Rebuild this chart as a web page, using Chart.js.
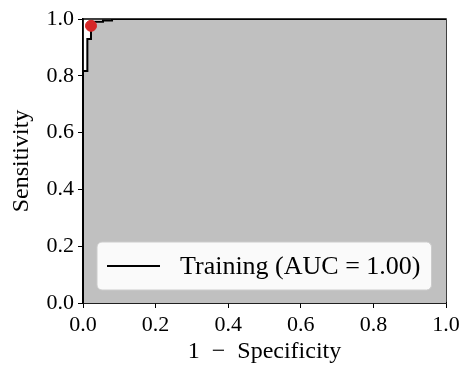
<!DOCTYPE html>
<html>
<head>
<meta charset="utf-8">
<script src="https://cdn.jsdelivr.net/npm/chart.js@4.4.1/dist/chart.umd.min.js"></script>
<style>
  body { margin: 0; background: #fff; }
</style>
</head>
<body>
<canvas id="myChart" width="460" height="365"></canvas>
<script>
// ROC curve corners
const fpr = [0, 0, 0.012, 0.012, 0.022, 0.022, 0.055, 0.055, 0.08, 0.08, 1.0];
const tpr = [0, 0.817, 0.817, 0.93, 0.93, 0.99, 0.99, 0.995, 0.995, 1.0, 1.0];
// chosen operating point (red dot)
const bestFpr = [0.022];
const bestTpr = [0.976];
const tickValues = [0, 0.2, 0.4, 0.6, 0.8, 1.0];
const seriesLabel = 'Training (AUC = 1.00)';

const serif = '"Liberation Serif", "DejaVu Serif", serif';

// black box round the plot
const frame = {
    id: 'frame',
    beforeDatasetsDraw(chart) {
        const {ctx, chartArea: a} = chart;
        ctx.save();
        ctx.strokeStyle = '#000';
        ctx.lineWidth = 1.5;
        ctx.strokeRect(a.left, a.top, a.right - a.left, a.bottom - a.top);
        ctx.restore();
    }
};

// legend inside the plot, lower part
const innerLegend = {
    id: 'innerLegend',
    afterDraw(chart) {
        const {ctx, chartArea: a} = chart;
        const label = chart.data.datasets[0].label;
        ctx.save();
        ctx.font = '26px ' + serif;
        const tw = ctx.measureText(label).width;
        const x0 = a.left + 14, y1 = a.bottom - 13, h = 48;
        const lineX = x0 + 10, lineLen = 53, textX = lineX + lineLen + 20;
        const x1 = textX + tw + 11;
        ctx.beginPath();
        ctx.roundRect(x0, y1 - h, x1 - x0, h, 5);
        ctx.fillStyle = 'rgba(255,255,255,0.92)';
        ctx.fill();
        ctx.strokeStyle = '#cccccc';
        ctx.lineWidth = 1;
        ctx.stroke();
        const cy = y1 - h / 2;
        ctx.beginPath();
        ctx.moveTo(lineX, cy);
        ctx.lineTo(lineX + lineLen, cy);
        ctx.strokeStyle = '#000';
        ctx.lineWidth = 2;
        ctx.stroke();
        ctx.fillStyle = '#000';
        ctx.textBaseline = 'middle';
        ctx.fillText(label, textX, cy + 1);
        ctx.restore();
    }
};

window.onload = () => {
    const ctx = document.getElementById('myChart').getContext('2d');
    const myChart = new Chart(ctx, {
        type: 'line',
        data: {
            datasets: [{
                label: seriesLabel,
                data: fpr.map((x, i) => ({x: x, y: tpr[i]})),
                borderColor: '#000',
                backgroundColor: '#c0c0c0',
                borderWidth: 2,
                pointRadius: 0,
                tension: 0,
                fill: 'origin',
                order: 2
            }, {
                type: 'scatter',
                label: 'best',
                data: bestFpr.map((x, i) => ({x: x, y: bestTpr[i]})),
                backgroundColor: '#d62728',
                borderColor: '#d62728',
                pointRadius: 5.5,
                clip: false,
                order: 1
            }]
        },
        options: {
            responsive: false,
            animation: false,
            layout: { padding: { left: 0, right: 14, top: 19, bottom: 0 } },
            plugins: {
                legend: { display: false },
                tooltip: { enabled: false }
            },
            scales: {
                x: {
                    type: 'linear',
                    min: 0,
                    max: 1,
                    afterBuildTicks: s => { s.ticks = tickValues.map(v => ({value: v})); },
                    afterFit: s => { s.height = 62; s.paddingLeft = 0; s.paddingRight = 0; },
                    ticks: {
                        color: '#000',
                        padding: 4,
                        maxRotation: 0,
                        font: { family: serif, size: 22 },
                        callback: v => v.toFixed(1)
                    },
                    grid: { drawOnChartArea: false, tickLength: 5, color: '#000' },
                    border: { color: '#000', width: 1.5 },
                    title: {
                        display: true,
                        text: '1\u2002\u2212\u2002Specificity',
                        color: '#000',
                        font: { family: serif, size: 24, lineHeight: 1 },
                        padding: { top: 0, bottom: 1 }
                    }
                },
                y: {
                    min: 0,
                    max: 1,
                    afterBuildTicks: s => { s.ticks = tickValues.map(v => ({value: v})); },
                    afterFit: s => { s.width = 83; s.paddingTop = 0; s.paddingBottom = 0; },
                    ticks: {
                        color: '#000',
                        padding: 4,
                        font: { family: serif, size: 22 },
                        callback: v => v.toFixed(1)
                    },
                    grid: { drawOnChartArea: false, tickLength: 5, color: '#000' },
                    border: { color: '#000', width: 1.5 },
                    title: {
                        display: true,
                        text: 'Sensitivity',
                        color: '#000',
                        font: { family: serif, size: 24, lineHeight: 1 },
                        padding: { top: 10, bottom: 0 }
                    }
                }
            }
        },
        plugins: [frame, innerLegend]
    });
}
</script>
</body>
</html>
